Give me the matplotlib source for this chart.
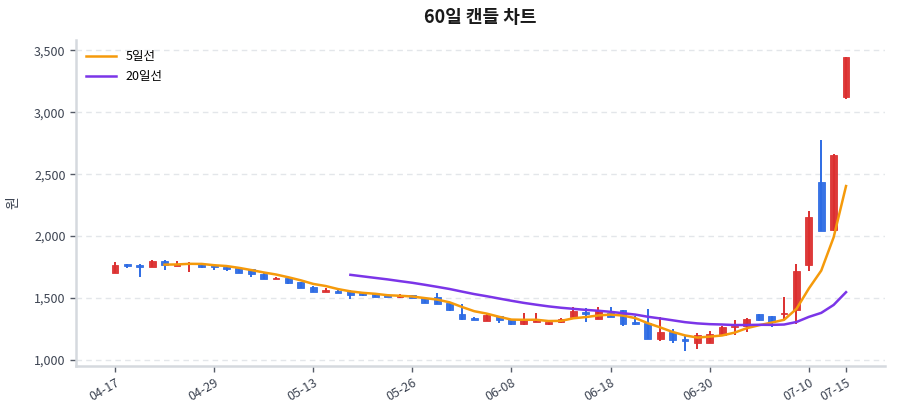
import numpy as np
import pandas as pd
import matplotlib
matplotlib.use("Agg")
import matplotlib.pyplot as plt
from matplotlib.ticker import FuncFormatter

plt.rcParams['font.family'] = ['Noto Sans CJK KR', 'DejaVu Sans']

# 60 trading days, OHLC
opens = [1705, 1772, 1770, 1752, 1800, 1760, 1777, 1772, 1765, 1752,
         1740, 1735, 1695, 1652, 1665, 1628, 1590, 1550, 1555, 1555,
         1542, 1537, 1526, 1512, 1525, 1497, 1510, 1462, 1370, 1335,
         1315, 1355, 1328, 1287, 1305, 1287, 1302, 1345, 1384, 1333,
         1376, 1400, 1308, 1295, 1168, 1228, 1165, 1140, 1135, 1202,
         1262, 1275, 1368, 1355, 1367, 1405, 1766, 2435, 2050, 3125]
highs = [1790, 1775, 1775, 1805, 1805, 1800, 1790, 1775, 1768, 1755,
         1742, 1738, 1698, 1668, 1668, 1630, 1598, 1578, 1575, 1568,
         1545, 1540, 1530, 1532, 1528, 1500, 1538, 1465, 1452, 1348,
         1375, 1358, 1330, 1376, 1376, 1312, 1342, 1430, 1417, 1425,
         1425, 1403, 1355, 1414, 1344, 1248, 1190, 1220, 1236, 1272,
         1322, 1336, 1370, 1357, 1505, 1772, 2200, 2780, 2660, 3450]
lows = [1700, 1740, 1670, 1750, 1725, 1755, 1712, 1745, 1730, 1718,
        1702, 1668, 1650, 1650, 1617, 1580, 1548, 1547, 1538, 1490,
        1520, 1510, 1507, 1498, 1496, 1456, 1450, 1398, 1325, 1322,
        1313, 1300, 1285, 1284, 1303, 1284, 1300, 1343, 1310, 1330,
        1343, 1270, 1285, 1166, 1150, 1135, 1072, 1087, 1133, 1200,
        1202, 1225, 1318, 1263, 1328, 1290, 1722, 2040, 2040, 3110]
closes = [1770, 1760, 1752, 1800, 1765, 1778, 1785, 1748, 1748, 1732,
          1705, 1695, 1652, 1664, 1620, 1582, 1550, 1568, 1540, 1528,
          1522, 1512, 1510, 1518, 1498, 1458, 1452, 1400, 1330, 1325,
          1362, 1323, 1287, 1322, 1327, 1310, 1330, 1392, 1370, 1392,
          1346, 1290, 1287, 1168, 1222, 1162, 1150, 1200, 1206, 1268,
          1276, 1332, 1320, 1310, 1380, 1718, 2155, 2043, 2655, 3450]

tick_idx = [0, 8, 16, 24, 32, 40, 48, 56, 59]
tick_labels = ['04-17', '04-29', '05-13', '05-26', '06-08',
               '06-18', '06-30', '07-10', '07-15']

UP = '#dc2f2f'
DOWN = '#2d6be4'
MA5_COLOR = '#f59a0b'
MA20_COLOR = '#7b35e8'

df = pd.DataFrame({'open': opens, 'high': highs, 'low': lows, 'close': closes})
ma5 = df['close'].rolling(5).mean()
ma20 = df['close'].rolling(20).mean()

fig = plt.figure(figsize=(9, 4.2), dpi=100)
ax = fig.add_axes([0.0844, 0.129, 0.899, 0.776])

x = np.arange(len(df))
for i, row in df.iterrows():
    color = UP if row['close'] >= row['open'] else DOWN
    ax.vlines(i, row['low'], row['high'], color=color, linewidth=1.4, zorder=2)
    bottom = min(row['open'], row['close'])
    height = max(abs(row['close'] - row['open']), 6)
    ax.bar(i, height, bottom=bottom, width=0.55, color=color,
           edgecolor=color, linewidth=0.6, alpha=0.95, zorder=3)

ax.plot(x, ma5, color=MA5_COLOR, linewidth=1.8, label='5일선', zorder=4)
ax.plot(x, ma20, color=MA20_COLOR, linewidth=1.8, label='20일선', zorder=4)

ax.set_xlim(-3.15, 62.15)
ax.set_ylim(952, 3585)
ax.set_yticks([1000, 1500, 2000, 2500, 3000, 3500])
ax.yaxis.set_major_formatter(FuncFormatter(lambda v, p: f'{int(v):,}'))
ax.set_xticks(tick_idx)
ax.set_xticklabels(tick_labels, rotation=30, ha='right', rotation_mode='anchor')

ax.grid(axis='y', color='#e3e6ea', linestyle=(0, (4, 3)), linewidth=1)
ax.set_axisbelow(True)
for side in ['top', 'right']:
    ax.spines[side].set_visible(False)
for side in ['left', 'bottom']:
    ax.spines[side].set_color('#d5d9de')
    ax.spines[side].set_linewidth(1.8)
ax.tick_params(axis='both', colors='#555b66', labelcolor='#3d4452',
               labelsize=9, length=4, width=1)

ax.set_ylabel('원', fontsize=10, color='#3d4452', labelpad=10)
ax.set_title('60일 캔들 차트', fontsize=13, fontweight='bold', color='#1a1a1a', pad=12)

leg = ax.legend(loc='upper left', frameon=False, fontsize=9,
                handlelength=2.4, borderaxespad=0.4, labelspacing=0.6)

fig.savefig('out.png', dpi=100, facecolor='white')
